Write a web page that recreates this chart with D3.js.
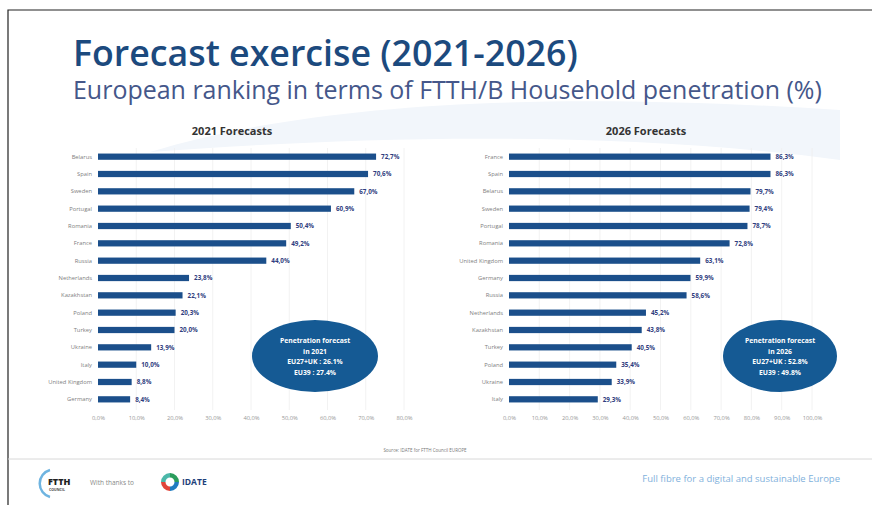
<!DOCTYPE html>
<html>
<head>
<meta charset="utf-8">
<script src="https://cdn.jsdelivr.net/npm/d3@7"></script>
<style>
  body { margin: 0; background: #fff; }
  svg { display: block; font-family: "Open Sans", sans-serif; }
</style>
</head>
<body>
<div id="chart"></div>
<script>
// data
var countries2021 = ["Belarus", "Spain", "Sweden", "Portugal", "Romania", "France", "Russia", "Netherlands",
  "Kazakhstan", "Poland", "Turkey", "Ukraine", "Italy", "United Kingdom", "Germany"];
var values2021 = [72.7, 70.6, 67.0, 60.9, 50.4, 49.2, 44.0, 23.8, 22.1, 20.3, 20.0, 13.9, 10.0, 8.8, 8.4];

var countries2026 = ["France", "Spain", "Belarus", "Sweden", "Portugal", "Romania", "United Kingdom", "Germany",
  "Russia", "Netherlands", "Kazakhstan", "Turkey", "Poland", "Ukraine", "Italy"];
var values2026 = [86.3, 86.3, 79.7, 79.4, 78.7, 72.8, 63.1, 59.9, 58.6, 45.2, 43.8, 40.5, 35.4, 33.9, 29.3];

var ticks2021 = [0, 10, 20, 30, 40, 50, 60, 70, 80];
var ticks2026 = [0, 10, 20, 30, 40, 50, 60, 70, 80, 90, 100];

var bubble2021 = ["Penetration forecast", "in 2021", "EU27+UK : 26.1%", "EU39 : 27.4%"];
var bubble2026 = ["Penetration forecast", "in 2026", "EU27+UK : 52.8%", "EU39 : 49.8%"];

var W = 872, H = 513;
var barColor = "#1b4f8b";
var navy = "#1c4a7e";

var svg = d3.select("#chart").append("svg")
  .attr("width", W)
  .attr("height", H);

// faint background swoosh
svg.append("path")
  .attr("d", "M150,152 C320,100 560,92 840,110 L840,160 C600,128 340,138 150,152 Z")
  .attr("fill", "#f2f6fb");

// frame
svg.append("path")
  .attr("d", "M8,505 L8,10 L872,10")
  .attr("fill", "none")
  .attr("stroke", "#222")
  .attr("stroke-width", 1.2);

// fit a text element to a target width by changing font size
function fitText(sel, width) {
  var fs = parseFloat(sel.attr("font-size"));
  var w = sel.node().getComputedTextLength();
  sel.attr("font-size", fs * width / w);
}

var title = svg.append("text")
  .attr("x", 73).attr("y", 66)
  .attr("font-size", 32)
  .attr("font-weight", 600)
  .attr("fill", navy)
  .text("Forecast exercise (2021-2026)");
fitText(title, 505);

var subtitle = svg.append("text")
  .attr("x", 73).attr("y", 99)
  .attr("font-size", 22)
  .attr("fill", "#45578a")
  .text("European ranking in terms of FTTH/B Household penetration (%)");
fitText(subtitle, 749);

function drawPanel(opts) {
  var g = svg.append("g");

  var x = d3.scaleLinear()
    .domain([0, d3.max(opts.ticks)])
    .range([opts.x0, opts.x1]);

  var y = d3.scaleBand()
    .domain(opts.countries)
    .range([148, 408])
    .paddingInner(0.64)
    .paddingOuter(0.32);

  // panel heading
  g.append("text")
    .attr("x", opts.headX).attr("y", 135)
    .attr("text-anchor", "middle")
    .attr("font-size", 11)
    .attr("font-weight", 700)
    .attr("fill", "#333")
    .text(opts.heading);

  // gridlines
  g.selectAll(".grid")
    .data(opts.ticks.slice(1))
    .enter().append("line")
      .attr("x1", function(d) { return x(d); })
      .attr("x2", function(d) { return x(d); })
      .attr("y1", 148)
      .attr("y2", 410)
      .attr("stroke", "#efefef")
      .attr("stroke-width", 0.8);

  // x axis
  var axis = d3.axisBottom(x)
    .tickValues(opts.ticks)
    .tickSize(0)
    .tickPadding(0)
    .tickFormat(function(d) { return d3.format(".1f")(d).replace(".", ",") + "%"; });

  g.append("g")
    .attr("transform", "translate(0,416)")
    .call(axis)
    .call(function(a) { a.select(".domain").remove(); })
    .selectAll("text")
      .attr("font-size", 5.8)
      .attr("font-family", "Open Sans, sans-serif")
      .attr("fill", "#999");

  var rows = g.selectAll(".row")
    .data(opts.countries)
    .enter().append("g")
      .attr("class", "row");

  rows.append("text")
    .attr("x", opts.x0 - 6)
    .attr("y", function(d) { return y(d) + y.bandwidth() / 2; })
    .attr("dy", "0.35em")
    .attr("text-anchor", "end")
    .attr("font-size", 5.8)
    .attr("fill", "#808080")
    .text(function(d) { return d; });

  rows.append("rect")
    .attr("x", x(0))
    .attr("y", function(d) { return y(d); })
    .attr("width", function(d, i) { return x(opts.values[i]) - x(0); })
    .attr("height", y.bandwidth())
    .attr("fill", barColor);

  rows.append("text")
    .attr("x", function(d, i) { return x(opts.values[i]) + 5; })
    .attr("y", function(d) { return y(d) + y.bandwidth() / 2; })
    .attr("dy", "0.35em")
    .attr("font-size", 6.3)
    .attr("font-weight", 700)
    .attr("fill", "#2f3d7e")
    .text(function(d, i) { return d3.format(".1f")(opts.values[i]).replace(".", ",") + "%"; });

  // summary bubble
  g.append("ellipse")
    .attr("cx", opts.bubble.cx).attr("cy", 356)
    .attr("rx", opts.bubble.rx).attr("ry", 36)
    .attr("fill", "#155a94");

  g.selectAll(".btxt")
    .data(opts.bubble.lines)
    .enter().append("text")
      .attr("x", opts.bubble.cx)
      .attr("y", function(d, i) { return 343 + i * 10.5; })
      .attr("text-anchor", "middle")
      .attr("font-size", 6.8)
      .attr("font-weight", 700)
      .attr("fill", "#fff")
      .text(function(d) { return d; });
}

drawPanel({
  heading: "2021 Forecasts", headX: 232,
  countries: countries2021, values: values2021, ticks: ticks2021,
  x0: 98, x1: 404,
  bubble: {cx: 315, rx: 63, lines: bubble2021}
});

drawPanel({
  heading: "2026 Forecasts", headX: 646,
  countries: countries2026, values: values2026, ticks: ticks2026,
  x0: 509, x1: 812,
  bubble: {cx: 780, rx: 57, lines: bubble2026}
});

// source
svg.append("text")
  .attr("x", 425).attr("y", 452)
  .attr("text-anchor", "middle")
  .attr("font-size", 4.5)
  .attr("fill", "#777")
  .text("Source: IDATE for FTTH Council EUROPE");

// footer separator
svg.append("line")
  .attr("x1", 8).attr("x2", W)
  .attr("y1", 459).attr("y2", 459)
  .attr("stroke", "#d8d8d8")
  .attr("stroke-width", 1);

// FTTH Council logo
var logo = svg.append("g").attr("transform", "translate(40,470)");
logo.append("path")
  .attr("d", "M10,0 A14,14 0 0,0 10,27")
  .attr("fill", "none")
  .attr("stroke", "#6fb4e0")
  .attr("stroke-width", 2.5);
logo.append("text")
  .attr("x", 8).attr("y", 15)
  .attr("font-size", 9)
  .attr("font-weight", 800)
  .attr("fill", "#222")
  .text("FTTH");
logo.append("text")
  .attr("x", 9).attr("y", 21)
  .attr("font-size", 3.5)
  .attr("font-weight", 700)
  .attr("fill", "#444")
  .text("COUNCIL");

svg.append("text")
  .attr("x", 90).attr("y", 485)
  .attr("font-size", 6.5)
  .attr("fill", "#888")
  .text("With thanks to");

// IDATE logo
var idate = svg.append("g").attr("transform", "translate(170,482)");
var ringColors = ["#2a9d5c", "#1f7bc0", "#e0453a", "#4bb8a9"];
var arc = d3.arc().innerRadius(4.5).outerRadius(9);
d3.pie().value(1)(ringColors).forEach(function(p, i) {
  idate.append("path").attr("d", arc(p)).attr("fill", ringColors[i]);
});
idate.append("text")
  .attr("x", 12).attr("y", 3)
  .attr("font-size", 8.5)
  .attr("font-weight", 700)
  .attr("fill", "#1d3f7a")
  .text("IDATE");

svg.append("text")
  .attr("x", 840).attr("y", 482)
  .attr("text-anchor", "end")
  .attr("font-size", 9.5)
  .attr("fill", "#7fb1dc")
  .text("Full fibre for a digital and sustainable Europe");
</script>
</body>
</html>
